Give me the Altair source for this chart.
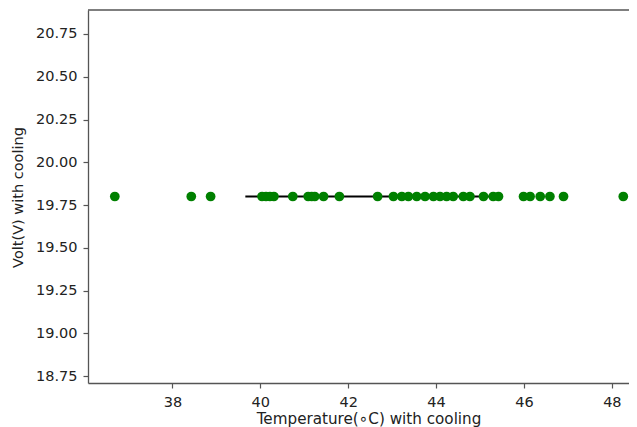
import altair as alt
import pandas as pd

# Data
temps = [36.69, 38.43, 38.87, 40.04, 40.13, 40.22, 40.31, 40.74, 41.09, 41.17,
         41.24, 41.44, 41.80, 42.67, 43.03, 43.22, 43.37, 43.56, 43.75, 43.94,
         44.09, 44.24, 44.39, 44.62, 44.77, 45.08, 45.30, 45.42, 45.99, 46.14,
         46.37, 46.59, 46.90, 48.26]
volts = [19.8, 19.8, 19.8, 19.8, 19.8, 19.8, 19.8, 19.8, 19.8, 19.8,
         19.8, 19.8, 19.8, 19.8, 19.8, 19.8, 19.8, 19.8, 19.8, 19.8,
         19.8, 19.8, 19.8, 19.8, 19.8, 19.8, 19.8, 19.8, 19.8, 19.8,
         19.8, 19.8, 19.8, 19.8]
line_x = [39.66, 45.41]
line_y = [19.8, 19.8]
x_ticks = [38, 40, 42, 44, 46, 48]
y_ticks = [18.75, 19.00, 19.25, 19.50, 19.75, 20.00, 20.25, 20.50, 20.75]

pts = pd.DataFrame({"t": temps, "v": volts})
ln = pd.DataFrame({"t": line_x, "v": line_y})

W, H = 541, 373
SPINE = "#555555"
FONT = "DejaVu Sans"

xscale = alt.Scale(domain=[36.08, 48.39], nice=False, zero=False)
yscale = alt.Scale(domain=[18.71, 20.89], nice=False, zero=False)

xaxis = alt.Axis(values=x_ticks, format="d", title="Temperature(\u2218C) with cooling",
                 titleX=280.5, titleY=40, titleAlign="center", titleBaseline="alphabetic",
                 titleFontSize=15.2,
                 labelPadding=7, tickSize=5)
yaxis = alt.Axis(values=y_ticks, format=".2f", title="Volt(V) with cooling",
                 titleX=-65.5, titleY=187, titleAlign="center", titleBaseline="alphabetic",
                 titleAngle=270, labelPadding=6, tickSize=5)

points = alt.Chart(pts).mark_circle(size=95, color="#008000", opacity=1).encode(
    x=alt.X("t:Q", scale=xscale, axis=xaxis),
    y=alt.Y("v:Q", scale=yscale, axis=yaxis),
)

line = alt.Chart(ln).mark_line(color="black", strokeWidth=2).encode(
    x=alt.X("t:Q", scale=xscale),
    y=alt.Y("v:Q", scale=yscale),
)

top_spine = alt.Chart(pd.DataFrame({"a": [0]})).mark_rule(color=SPINE, strokeWidth=1.3).encode(
    x=alt.value(0), x2=alt.value(W), y=alt.value(0)
)

chart = alt.layer(line, points, top_spine).properties(
    width=W, height=H,
    autosize=alt.AutoSizeParams(type="none"),
    padding={"left": 80, "top": 2, "right": 0, "bottom": 44},
).configure_view(stroke=None).configure_axis(
    grid=False,
    domainColor=SPINE, domainWidth=1.3,
    tickColor=SPINE, tickWidth=1.2,
    labelFont=FONT, labelFontSize=14.5, labelColor="#222222",
    titleFont=FONT, titleFontSize=14.5, titleColor="#222222", titleFontWeight="normal",
)

chart.save("out.html", embed_options={"renderer": "svg", "actions": False})
